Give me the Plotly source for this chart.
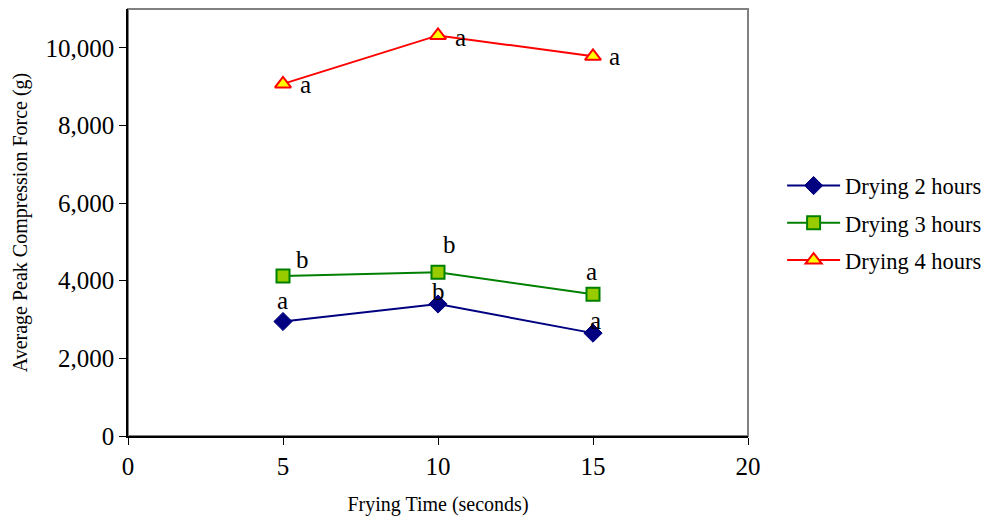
import plotly.graph_objects as go

frying_time = [5, 10, 15]
series_names = ["Drying 2 hours", "Drying 3 hours", "Drying 4 hours"]
drying2 = [2950, 3400, 2650]
drying3 = [4120, 4220, 3650]
drying4 = [9070, 10320, 9780]
letters2 = ["a", "b", "a"]
letters3 = ["b", "b", "a"]
letters4 = ["a", "a", "a"]
x_ticks = [0, 5, 10, 15, 20]
y_ticks = [0, 2000, 4000, 6000, 8000, 10000]

FONT = "Liberation Serif, Times New Roman, serif"

styles = [
    dict(line=dict(color="#000080", width=2),
         marker=dict(symbol="diamond", size=14, color="#000080", line=dict(color="#000080", width=1))),
    dict(line=dict(color="#008000", width=2),
         marker=dict(symbol="square", size=13, color="#99CC00", line=dict(color="#008000", width=2))),
    dict(line=dict(color="#FF0000", width=2),
         marker=dict(symbol="triangle-up", size=14, color="#FFFF00", line=dict(color="#FF0000", width=2))),
]
series = [drying2, drying3, drying4]
letters = [letters2, letters3, letters4]
offsets = [
    [(-1, 21), (0, 13), (2, 13)],
    [(19, 17), (11, 28), (-2, 23)],
    [(22, -1), (22, -2), (21, 0)],
]

fig = go.Figure()
for i, (name, vals, st) in enumerate(zip(series_names, series, styles)):
    fig.add_trace(go.Scatter(x=frying_time, y=vals, mode="lines+markers", name=name,
                             legendgroup="g%d" % i,
                             line=st["line"], marker=st["marker"]))

annotations = []
for vals, lets, offs in zip(series, letters, offsets):
    for xv, yv, t, (dx, dy) in zip(frying_time, vals, lets, offs):
        annotations.append(dict(x=xv, y=yv, text=t, showarrow=False, xshift=dx, yshift=dy,
                                font=dict(family=FONT, size=25, color="black")))

fig.update_layout(
    width=984, height=508,
    margin=dict(l=120, r=244, t=1, b=80, autoexpand=False),
    paper_bgcolor="white", plot_bgcolor="white",
    font=dict(family=FONT, color="black"),
    showlegend=True,
    legend=dict(x=1.055, y=0.499, xanchor="left", yanchor="middle",
                font=dict(family=FONT, size=22.5), itemwidth=53, tracegroupgap=5,
                bgcolor="rgba(0,0,0,0)"),
    annotations=annotations,
    shapes=[dict(type="rect", xref="paper", yref="paper", x0=0, y0=0, x1=1, y1=1,
                 line=dict(color="#808080", width=2), layer="below")],
)
fig.update_xaxes(range=[0, 20], tickvals=x_ticks, ticks="outside", ticklen=7,
                 tickcolor="black", showline=True, linecolor="black", linewidth=1.5,
                 showgrid=False, zeroline=False, tickfont=dict(family=FONT, size=25),
                 title=dict(text="Frying Time (seconds)", font=dict(family=FONT, size=20), standoff=24))
fig.update_yaxes(range=[0, 11000], tickvals=y_ticks, tickformat=",", ticks="outside", ticklen=7,
                 tickcolor="black", showline=True, linecolor="black", linewidth=1.5,
                 showgrid=False, zeroline=False, tickfont=dict(family=FONT, size=25),
                 title=dict(text="Average Peak Compression Force (g)", font=dict(family=FONT, size=20), standoff=13))

fig.write_html("out.html")
